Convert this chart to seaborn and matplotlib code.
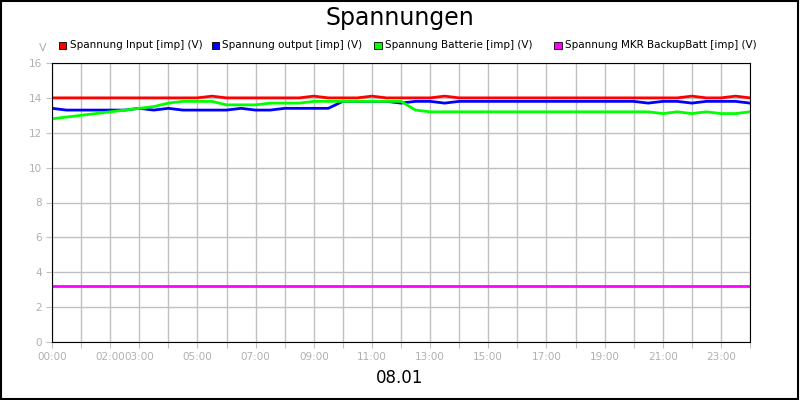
import matplotlib
matplotlib.use("Agg")
import matplotlib.pyplot as plt
import seaborn as sns
import pandas as pd

hours = [i * 0.5 for i in range(49)]
v_input = [14.0,14.0,14.0,14.0,14.0,14.0,14.0,14.0,14.0,14.0,14.0,14.1,14.0,14.0,14.0,14.0,14.0,14.0,14.1,14.0,
           14.0,14.0,14.1,14.0,14.0,14.0,14.0,14.1,14.0,14.0,14.0,14.0,14.0,14.0,14.0,14.0,14.0,14.0,14.0,14.0,
           14.0,14.0,14.0,14.0,14.1,14.0,14.0,14.1,14.0]
v_output = [13.4,13.3,13.3,13.3,13.3,13.3,13.4,13.3,13.4,13.3,13.3,13.3,13.3,13.4,13.3,13.3,13.4,13.4,13.4,13.4,
            13.8,13.8,13.8,13.8,13.7,13.8,13.8,13.7,13.8,13.8,13.8,13.8,13.8,13.8,13.8,13.8,13.8,13.8,13.8,13.8,
            13.8,13.7,13.8,13.8,13.7,13.8,13.8,13.8,13.7]
v_batt = [12.8,12.9,13.0,13.1,13.2,13.3,13.4,13.5,13.7,13.8,13.8,13.8,13.6,13.6,13.6,13.7,13.7,13.7,13.8,13.8,
          13.8,13.8,13.8,13.8,13.8,13.3,13.2,13.2,13.2,13.2,13.2,13.2,13.2,13.2,13.2,13.2,13.2,13.2,13.2,13.2,
          13.2,13.2,13.1,13.2,13.1,13.2,13.1,13.1,13.2]
v_mkr = [3.2] * 49
series_names = ["Spannung Input [imp] (V)", "Spannung output [imp] (V)",
                "Spannung Batterie [imp] (V)", "Spannung MKR BackupBatt [imp] (V)"]
colors = ["#ff0000", "#0000ff", "#00ff00", "#ff00ff"]
tick_hours = list(range(25))
tick_labels = {0: "00:00", 2: "02:00", 3: "03:00", 5: "05:00", 7: "07:00", 9: "09:00", 11: "11:00",
               13: "13:00", 15: "15:00", 17: "17:00", 19: "19:00", 21: "21:00", 23: "23:00"}

df = pd.DataFrame({"h": hours * 4,
                   "v": v_input + v_output + v_batt + v_mkr,
                   "s": sum([[n] * 49 for n in series_names], [])})

fig = plt.figure(figsize=(8, 4), dpi=100)
ax = fig.add_axes([0.065, 0.145, 0.8725, 0.6975])
sns.lineplot(data=df, x="h", y="v", hue="s", hue_order=series_names, palette=colors,
             ax=ax, linewidth=2, legend=False)
ax.set_xlim(0, 24)
ax.set_ylim(0, 16)
ax.set_yticks(range(0, 17, 2))
ax.set_xticks(tick_hours)
ax.set_xticklabels([tick_labels.get(h, "") for h in tick_hours])
ax.grid(True, color="#c0c0c0", linewidth=1)
ax.set_axisbelow(True)
ax.tick_params(colors="#c0c0c0", labelcolor="#b0b0b0", labelsize=7.5, length=4)
for s in ax.spines.values():
    s.set_color("black")
ax.set_xlabel("")
ax.set_ylabel("")

fig.text(0.5, 0.955, "Spannungen", ha="center", va="center", fontsize=17)
fig.text(0.054, 0.88, "V", ha="center", va="center", fontsize=8, color="#b0b0b0")
fig.text(0.5, 0.055, "08.01", ha="center", va="center", fontsize=12)
lx = [0.074, 0.265, 0.468, 0.693]
for x, n, c in zip(lx, series_names, colors):
    fig.patches.append(plt.Rectangle((x, 0.877), 0.009, 0.018, transform=fig.transFigure,
                                     facecolor=c, edgecolor="black", linewidth=0.6))
    fig.text(x + 0.013, 0.887, n, ha="left", va="center", fontsize=7.5)
fig.patches.append(plt.Rectangle((0.001, 0.002), 0.997, 0.995, transform=fig.transFigure,
                                 fill=False, edgecolor="black", linewidth=1.5))
fig.savefig("out.png", dpi=100)
